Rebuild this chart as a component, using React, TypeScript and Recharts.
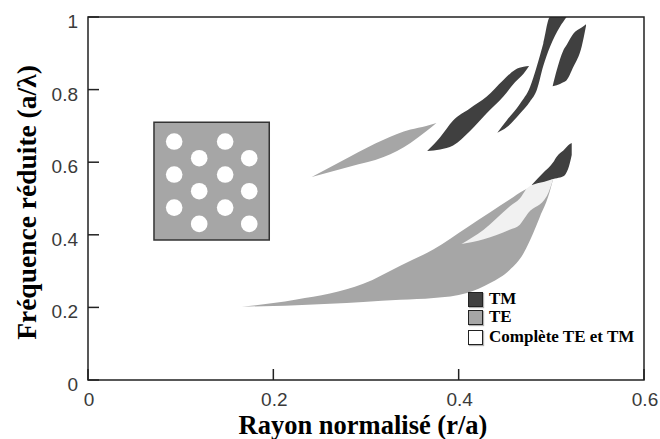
import React from "react";
import {
  ComposedChart,
  Area,
  Scatter,
  XAxis,
  YAxis,
  ReferenceArea,
} from "recharts";

// band gaps: [r/a, lower a/λ, upper a/λ]
const teLowBand = [
  [0.166, 0.202, 0.202],
  [0.2, 0.204, 0.212],
  [0.225, 0.206, 0.222],
  [0.261, 0.21, 0.238],
  [0.297, 0.215, 0.265],
  [0.337, 0.221, 0.315],
  [0.373, 0.226, 0.36],
  [0.409, 0.24, 0.42],
  [0.434, 0.267, 0.462],
  [0.455, 0.303, 0.497],
  [0.47, 0.349, 0.522],
  [0.4805, 0.405, 0.535],
  [0.4877, 0.45, 0.542],
  [0.4967, 0.506, 0.55],
  [0.502, 0.554, 0.554],
];

const teHighBand = [
  [0.2414, 0.559, 0.559],
  [0.283, 0.588, 0.616],
  [0.319, 0.614, 0.662],
  [0.348, 0.653, 0.69],
  [0.365, 0.685, 0.7],
  [0.376, 0.708, 0.708],
];

const tmLowBand = [
  [0.479, 0.536, 0.538],
  [0.491, 0.54, 0.57],
  [0.502, 0.554, 0.6],
  [0.506, 0.556, 0.616],
  [0.513, 0.561, 0.632],
  [0.52, 0.598, 0.65],
  [0.522, 0.62, 0.653],
];

const tmBandA = [
  [0.366, 0.631, 0.631],
  [0.38, 0.635, 0.669],
  [0.394, 0.646, 0.715],
  [0.412, 0.685, 0.748],
  [0.43, 0.734, 0.78],
  [0.448, 0.78, 0.826],
  [0.461, 0.821, 0.855],
  [0.47, 0.844, 0.863],
  [0.476, 0.865, 0.865],
];

const tmBandB = [
  [0.4417, 0.681, 0.681],
  [0.4518, 0.696, 0.715],
  [0.4662, 0.734, 0.761],
  [0.477, 0.767, 0.807],
  [0.4842, 0.798, 0.863],
  [0.4913, 0.865, 0.927],
  [0.4986, 0.918, 1.0],
  [0.5093, 0.973, 1.0],
  [0.5165, 1.0, 1.0],
];

const tmBandC = [
  [0.5014, 0.809, 0.809],
  [0.5058, 0.812, 0.853],
  [0.5129, 0.82, 0.908],
  [0.5165, 0.826, 0.923],
  [0.5237, 0.862, 0.954],
  [0.5327, 0.918, 0.971],
  [0.5374, 0.975, 0.98],
];

const completeBand = [
  [0.403, 0.375, 0.375],
  [0.427, 0.388, 0.414],
  [0.455, 0.414, 0.478],
  [0.466, 0.428, 0.5],
  [0.475, 0.46, 0.531],
  [0.495, 0.506, 0.548],
  [0.502, 0.554, 0.554],
];

// inset: triangular lattice of holes
const insetX = [0.0712, 0.1956];
const insetY = [0.386, 0.71];
const holes = [
  [0.093, 0.657], [0.148, 0.657],
  [0.12, 0.611], [0.174, 0.611],
  [0.093, 0.566], [0.148, 0.566],
  [0.12, 0.52], [0.174, 0.52],
  [0.093, 0.475], [0.148, 0.475],
  [0.12, 0.43], [0.174, 0.43],
];

const xTicks = [0, 0.2, 0.4, 0.6];
const yTicks = [0, 0.2, 0.4, 0.6, 0.8, 1];

const TM = "#404040";
const TE = "#a6a6a6";
const FULL = "#f1f1f1";

const legendItems = [
  { label: "TM", color: TM },
  { label: "TE", color: TE },
  { label: "Complète TE et TM", color: "#ffffff" },
];

const toRows = (pts: number[][]) => pts.map(([x, lo, hi]) => ({ x, y: [lo, hi] }));
const holeRows = holes.map(([x, y]) => ({ x, y }));

const sans = "'Liberation Sans', Arial, sans-serif";
const serif = "'Liberation Serif', 'Times New Roman', serif";

const XTick = (props: any) => {
  const { x, y, payload } = props;
  return (
    <g>
      <line x1={x} y1={y - 13} x2={x} y2={y - 24} stroke="#222" strokeWidth={1.5} />
      <text x={x + 1} y={y} dy="0.71em" textAnchor="middle" fontFamily={sans} fontSize={19} fill="#3a3a3a">
        {payload.value}
      </text>
    </g>
  );
};

const YTick = (props: any) => {
  const { x, y, payload } = props;
  return (
    <g>
      <line x1={x + 10} y1={y} x2={x + 21} y2={y} stroke="#222" strokeWidth={1.5} />
      <text x={x} y={y} dy={11} textAnchor="end" fontFamily={sans} fontSize={19} fill="#3a3a3a">
        {payload.value}
      </text>
    </g>
  );
};

const bands = [
  { key: "teLow", pts: teLowBand, color: TE },
  { key: "teHigh", pts: teHighBand, color: TE },
  { key: "tmLow", pts: tmLowBand, color: TM },
  { key: "tmA", pts: tmBandA, color: TM },
  { key: "tmB", pts: tmBandB, color: TM },
  { key: "tmC", pts: tmBandC, color: TM },
  { key: "full", pts: completeBand, color: FULL },
];

export default function App() {
  return (
    <div style={{ position: "absolute", left: 0, top: 0, width: 660, height: 439, background: "#fff" }}>
      <ComposedChart width={660} height={439} margin={{ top: 17, right: 16, bottom: 5, left: 0 }}>
        <XAxis
          type="number"
          dataKey="x"
          domain={[0, 0.6]}
          ticks={xTicks}
          allowDataOverflow
          axisLine={false}
          tickLine={false}
          tickSize={0}
          tickMargin={13}
          height={54}
          tick={<XTick />}
          label={{
            content: ({ viewBox }: any) => (
              <text
                x={viewBox.x + viewBox.width / 2 - 3}
                y={viewBox.y + viewBox.height}
                textAnchor="middle"
                fontFamily={serif}
                fontWeight="bold"
                fontSize={26.5}
                fill="#000"
              >
                Rayon normalisé (r/a)
              </text>
            ),
          }}
        />
        <YAxis
          type="number"
          dataKey="y"
          domain={[0, 1]}
          ticks={yTicks}
          allowDataOverflow
          axisLine={false}
          tickLine={false}
          tickSize={0}
          tickMargin={10}
          width={88}
          tick={<YTick />}
          label={{
            content: ({ viewBox }: any) => {
              const cx = 36;
              const cy = viewBox.y + viewBox.height / 2 + 4;
              return (
                <text
                  x={cx}
                  y={cy}
                  transform={`rotate(-90 ${cx} ${cy})`}
                  textAnchor="middle"
                  fontFamily={serif}
                  fontWeight="bold"
                  fontSize={27.5}
                  fill="#000"
                >
                  Fréquence réduite (a/λ)
                </text>
              );
            },
          }}
        />
        <ReferenceArea
          x1={insetX[0]}
          x2={insetX[1]}
          y1={insetY[0]}
          y2={insetY[1]}
          fill={TE}
          fillOpacity={1}
          stroke="#333"
          strokeWidth={1.5}
        />
        <Scatter
          data={holeRows}
          dataKey="y"
          isAnimationActive={false}
          shape={(p: any) => <circle cx={p.cx} cy={p.cy} r={8.3} fill="#fff" />}
        />
        {bands.map((b) => (
          <Area
            key={b.key}
            data={toRows(b.pts)}
            dataKey="y"
            type="monotone"
            fill={b.color}
            fillOpacity={1}
            stroke="none"
            isAnimationActive={false}
            dot={false}
            activeDot={false}
          />
        ))}
        <ReferenceArea
          x1={0}
          x2={0.6}
          y1={0}
          y2={1}
          fill="none"
          stroke="#222"
          strokeWidth={1.5}
          ifOverflow="visible"
        />
      </ComposedChart>
      <div style={{ position: "absolute", left: 468, top: 290, fontFamily: serif, fontWeight: "bold", fontSize: 17, color: "#000" }}>
        {legendItems.map((it, i) => (
          <div
            key={it.label}
            style={{ display: "flex", alignItems: "center", height: 18, lineHeight: "16px", marginTop: i === 2 ? 2 : 0 }}
          >
            <span
              style={{
                display: "inline-block",
                width: 13,
                height: 13,
                background: it.color,
                border: "1.5px solid #222",
                boxShadow: "1px 1px 1px rgba(0,0,0,0.3)",
                marginRight: 6,
              }}
            />
            <span>{it.label}</span>
          </div>
        ))}
      </div>
    </div>
  );
}
